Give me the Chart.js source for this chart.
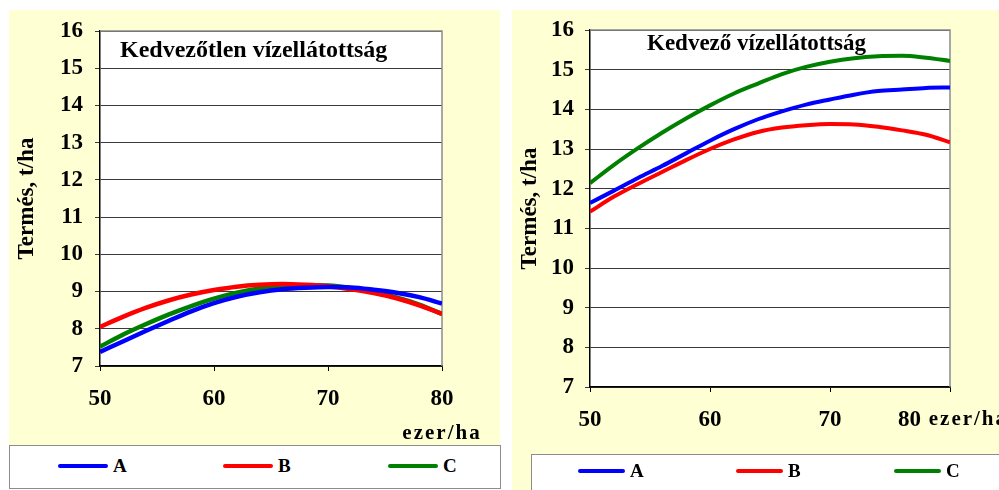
<!DOCTYPE html>
<html>
<head>
<meta charset="utf-8">
<script src="https://cdn.jsdelivr.net/npm/chart.js@4.4.1/dist/chart.umd.min.js"></script>
<style>
  body { margin: 0; width: 999px; height: 490px; overflow: hidden; position: relative; background: #fff; font-family: 'Liberation Serif', 'Times New Roman', serif; }
  .panel { position: absolute; background: #ffffd4; }
  canvas { position: absolute; }
  .legend { position: absolute; background: #fff; border: 1px solid #8c8c8c; box-sizing: border-box; overflow: hidden; }
  .item { position: absolute; display: flex; align-items: center; font-weight: bold; font-size: 19px; color: #000; }
  .swatch { display: inline-block; height: 4px; border-radius: 2px; margin-right: 5px; }
</style>
</head>
<body>
<div class="panel" style="left:9px;top:10px;width:491px;height:436px"></div>
<div class="panel" style="left:512px;top:10px;width:487px;height:480px"></div>
<canvas id="poorChart" width="500" height="445" style="left:0;top:0"></canvas>
<canvas id="goodChart" width="499" height="454" style="left:500px;top:0"></canvas>
<div class="legend" id="poorLegend" style="left:9px;top:445px;width:492px;height:44px"></div>
<div class="legend" id="goodLegend" style="left:531px;top:454px;width:480px;height:40px"></div>
<script>
// plant density, thousand/ha
const xValues = [50, 52, 54, 56, 58, 60, 62, 64, 66, 68, 70, 72, 74, 76, 78, 80];
const seriesNames = ['A', 'B', 'C'];
const seriesColors = ['#0000ff', '#ff0000', '#008000'];

// Kedvezőtlen vízellátottság (t/ha)
const poorA = [7.38, 7.66, 7.94, 8.21, 8.47, 8.69, 8.86, 8.98, 9.06, 9.10, 9.12, 9.11, 9.05, 8.97, 8.85, 8.68];
const poorB = [8.05, 8.32, 8.56, 8.76, 8.92, 9.04, 9.13, 9.18, 9.20, 9.18, 9.14, 9.06, 8.96, 8.82, 8.63, 8.40];
const poorC = [7.52, 7.84, 8.12, 8.38, 8.61, 8.81, 8.97, 9.08, 9.15, 9.17, 9.16, 9.09, 8.98, 8.84, 8.65, 8.40];

// Kedvező vízellátottság (t/ha)
const goodA = [11.64, 11.95, 12.27, 12.57, 12.89, 13.21, 13.50, 13.75, 13.95, 14.12, 14.25, 14.37, 14.46, 14.50, 14.54, 14.55];
const goodB = [11.42, 11.80, 12.12, 12.42, 12.72, 13.00, 13.24, 13.43, 13.54, 13.60, 13.63, 13.62, 13.56, 13.47, 13.36, 13.17];
const goodC = [12.14, 12.60, 13.02, 13.41, 13.77, 14.10, 14.40, 14.65, 14.89, 15.07, 15.20, 15.29, 15.34, 15.35, 15.30, 15.22];

const yTicks = [7, 8, 9, 10, 11, 12, 13, 14, 15, 16];
const xTicks = [50, 60, 70, 80];
const yTitle = 'Termés, t/ha';
const xUnit = 'ezer/ha';

const FONT = "'Liberation Serif', 'Times New Roman', serif";

// white plot area + grey top/right frame
const plotFrame = {
  id: 'plotFrame',
  beforeDraw(chart) {
    const { ctx, chartArea: a } = chart;
    ctx.save();
    ctx.fillStyle = '#fff';
    ctx.fillRect(a.left, a.top, a.width, a.height);
    ctx.restore();
  },
  beforeDatasetsDraw(chart) {
    const { ctx, chartArea: a } = chart;
    ctx.save();
    ctx.strokeStyle = '#8c8c8c';
    ctx.lineWidth = 1.5;
    ctx.beginPath();
    ctx.moveTo(a.left, a.top);
    ctx.lineTo(a.right, a.top);
    ctx.lineTo(a.right, a.bottom);
    ctx.stroke();
    ctx.restore();
  }
};

// heading inside the plot and the unit next to the x axis
const panelText = {
  id: 'panelText',
  afterDraw(chart, args, opts) {
    const { ctx, chartArea: a } = chart;
    const xs = chart.scales.x;
    ctx.save();
    ctx.fillStyle = '#000';
    ctx.font = 'bold ' + opts.titleSize + 'px ' + FONT;
    ctx.textBaseline = 'middle';
    ctx.textAlign = 'left';
    ctx.fillText(opts.title, a.left + opts.titleDx, opts.titleY);

    const last = xTicks[xTicks.length - 1];
    if (opts.unitInline) {
      ctx.font = 'bold 23px ' + FONT;
      const num = last + ' ';
      ctx.fillText(num, opts.unitX, opts.unitY);
      const w = ctx.measureText(num).width;
      ctx.font = 'bold 21px ' + FONT;
      ctx.letterSpacing = '2px';
      ctx.fillText(xUnit, opts.unitX + w + 2, opts.unitY);
    } else {
      ctx.font = 'bold 21px ' + FONT;
      ctx.letterSpacing = '2px';
      ctx.textAlign = 'center';
      ctx.fillText(xUnit, xs.getPixelForValue(last), opts.unitY);
    }
    ctx.restore();
  }
};

function makeChart(id, series, lay) {
  const ctx = document.getElementById(id).getContext('2d');
  return new Chart(ctx, {
    type: 'line',
    data: {
      datasets: series.map((vals, i) => ({
        label: seriesNames[i],
        data: xValues.map((x, j) => ({ x: x, y: vals[j] })),
        borderColor: seriesColors[i],
        backgroundColor: seriesColors[i],
        borderWidth: lay.lineWidth,
        pointRadius: 0,
        cubicInterpolationMode: 'monotone',
        fill: false
      }))
    },
    options: {
      responsive: false,
      animation: false,
      devicePixelRatio: 1,
      layout: { padding: { top: lay.top, right: lay.right, left: 0, bottom: 0 } },
      plugins: {
        legend: { display: false },
        tooltip: { enabled: false },
        panelText: lay.text
      },
      scales: {
        x: {
          type: 'linear',
          min: xTicks[0],
          max: xTicks[xTicks.length - 1],
          afterBuildTicks: s => { s.ticks = xTicks.map(v => ({ value: v })); },
          afterFit: s => { s.height = lay.xHeight; },
          grid: { drawOnChartArea: false, color: '#000', tickLength: 5 },
          border: { color: '#000', width: 1.5 },
          ticks: {
            padding: 14,
            color: '#000',
            font: { family: FONT, size: 23, weight: 'bold' },
            callback: v => (lay.text.unitInline && v === xTicks[xTicks.length - 1]) ? '' : String(v)
          }
        },
        y: {
          min: yTicks[0],
          max: yTicks[yTicks.length - 1],
          afterBuildTicks: s => { s.ticks = yTicks.map(v => ({ value: v })); },
          afterFit: s => { s.width = lay.yWidth; },
          grid: { color: '#3a3a3a', lineWidth: 1, tickLength: 5 },
          border: { color: '#000', width: 1.5 },
          ticks: {
            padding: lay.yPad,
            color: '#000',
            font: { family: FONT, size: 23, weight: 'bold' }
          },
          title: {
            display: true,
            text: yTitle,
            color: '#000',
            font: { family: FONT, size: 23, weight: 'bold' },
            padding: { top: lay.titlePad, bottom: 0 }
          }
        }
      }
    },
    plugins: [plotFrame, panelText]
  });
}

function htmlLegend(chart, elId, startX, step, lineLen, y) {
  const box = document.getElementById(elId);
  const items = chart.options.plugins.legend.labels.generateLabels(chart);
  items.forEach((it, i) => {
    const d = document.createElement('div');
    d.className = 'item';
    d.style.left = (startX + i * step) + 'px';
    d.style.top = y + 'px';
    const sw = document.createElement('span');
    sw.className = 'swatch';
    sw.style.width = lineLen + 'px';
    sw.style.background = it.strokeStyle;
    d.appendChild(sw);
    d.appendChild(document.createTextNode(it.text));
    box.appendChild(d);
  });
}

const poorChart = makeChart('poorChart', [poorA, poorB, poorC], {
  top: 31, right: 58, yWidth: 100, xHeight: 79, yPad: 12, titlePad: 13, lineWidth: 4.5,
  text: { title: 'Kedvezőtlen vízellátottság', titleSize: 24, titleDx: 20, titleY: 51, unitInline: false, unitY: 434 }
});

const goodChart = makeChart('goodChart', [goodA, goodB, goodC], {
  top: 30, right: 49, yWidth: 90, xHeight: 67, yPad: 11, titlePad: 16, lineWidth: 4,
  text: { title: 'Kedvező vízellátottság', titleSize: 23, titleDx: 57, titleY: 44, unitInline: true, unitX: 398, unitY: 420 }
});

htmlLegend(poorChart, 'poorLegend', 48, 165, 50, 9);
htmlLegend(goodChart, 'goodLegend', 46, 158, 47, 5);
</script>
</body>
</html>
